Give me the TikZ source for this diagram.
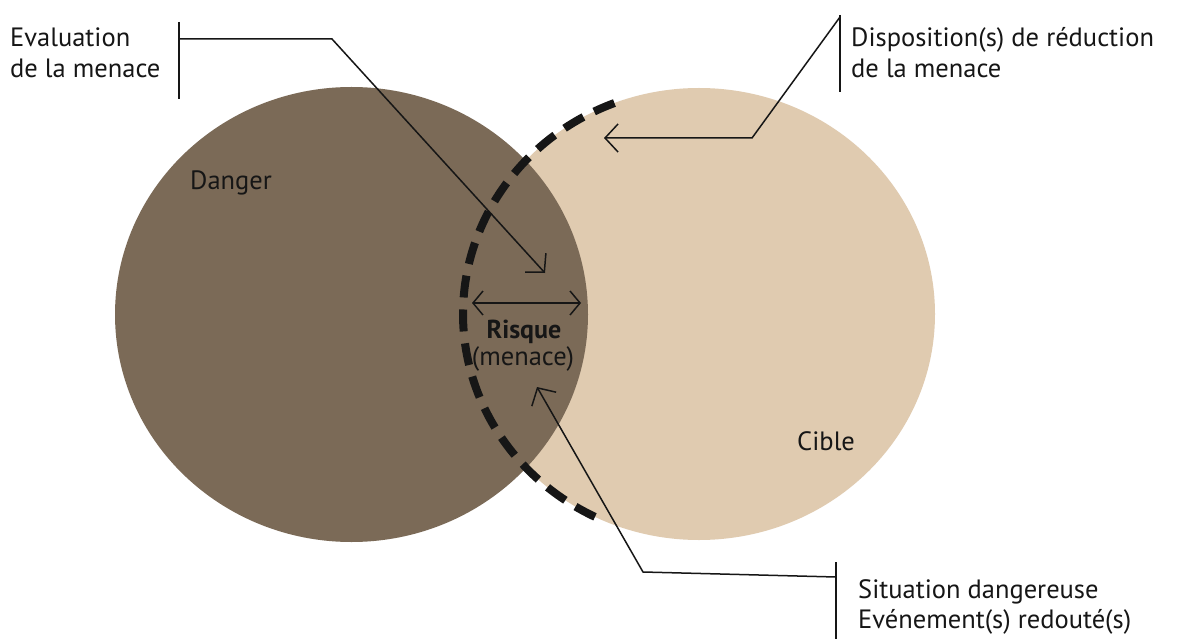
\documentclass[tikz,border=0pt]{standalone}
\usepackage{fontspec}
\setmainfont{PT Sans}
\usetikzlibrary{arrows.meta,shapes.geometric}
\definecolor{dangerc}{RGB}{123,106,87}
\definecolor{ciblec}{RGB}{224,203,176}
\definecolor{inkc}{RGB}{22,22,22}
\begin{document}
\begin{tikzpicture}[x=1pt,y=-1pt,
  lbl/.style={inner sep=0pt, anchor=base west, font=\fontsize{26.5}{31}\selectfont, text=inkc},
  mid/.style={inner sep=0pt, anchor=base, font=\fontsize{26.5}{31}\selectfont, text=inkc},
  conn/.style={draw=inkc, line width=1.5pt},
  tipend/.style={-{Straight Barb[length=13pt,width=28pt,line width=1.5pt]}},
  tipboth/.style={{Straight Barb[length=10pt,width=24pt,line width=1.5pt]}-{Straight Barb[length=10pt,width=24pt,line width=1.5pt]}},
  disc/.style={ellipse, inner sep=0pt, draw=none}]
\fill[white] (0,0) rectangle (1178,639);
\useasboundingbox (0,0) rectangle (1178,639);
% circles
\node[disc, fill=ciblec, minimum width=472pt, minimum height=452pt] (cible) at (699,314) {};
\node[disc, fill=dangerc, minimum width=473pt, minimum height=455pt] (danger) at (351.5,314.5) {};
% dashed outline of the target
\draw[inkc, line width=8pt, dash pattern=on 22pt off 12pt]
  plot[domain=249:114, samples=120] ({699+236*cos(\x)},{314+226*sin(\x)});
% labels
\node[lbl] (ev1) at (10,47) {Evaluation};
\node[lbl] (ev2) at (10,78) {de la menace};
\node[lbl] (dp1) at (851,47) {Disposition(s) de réduction};
\node[lbl] (dp2) at (851,78) {de la menace};
\node[lbl] (dangerlbl) at (190,190) {Danger};
\node[lbl] (ciblelbl) at (797,450) {Cible};
\node[mid, font=\fontsize{26}{31}\selectfont\bfseries] (risque) at (524,338) {Risque};
\node[mid] (menace) at (523,365) {(menace)};
\node[lbl] (sit1) at (858,598) {Situation dangereuse};
\node[lbl] (sit2) at (858,628) {Evénement(s) redouté(s)};
% evaluation connector
\coordinate (evbT) at (179,22);
\coordinate (evbB) at (179,99);
\coordinate (evj) at (179,39);
\coordinate (evc) at (332,39);
\coordinate (evt) at (545,273);
\draw[conn] (evbT) -- (evbB);
\draw[conn, tipend] (evj) -- (evc) -- (evt);
% disposition connector
\coordinate (dpbT) at (840,15);
\coordinate (dpbB) at (840,92);
\coordinate (dpj) at (840,17);
\coordinate (dpc) at (752,138);
\coordinate (dpt) at (604,138);
\draw[conn] (dpbT) -- (dpbB);
\draw[conn, tipend] (dpj) -- (dpc) -- (dpt);
% situation connector
\coordinate (sbT) at (836,562);
\coordinate (sbB) at (836,639);
\coordinate (sj) at (836,577);
\coordinate (sc) at (643,572);
\coordinate (st) at (537,387);
\draw[conn] (sbT) -- (sbB);
\draw[conn, tipend] (sj) -- (sc) -- (st);
% risk width arrow
\coordinate (ra) at (472,303);
\coordinate (rb) at (581,303);
\draw[conn, tipboth] (ra) -- (rb);
\end{tikzpicture}
\end{document}
